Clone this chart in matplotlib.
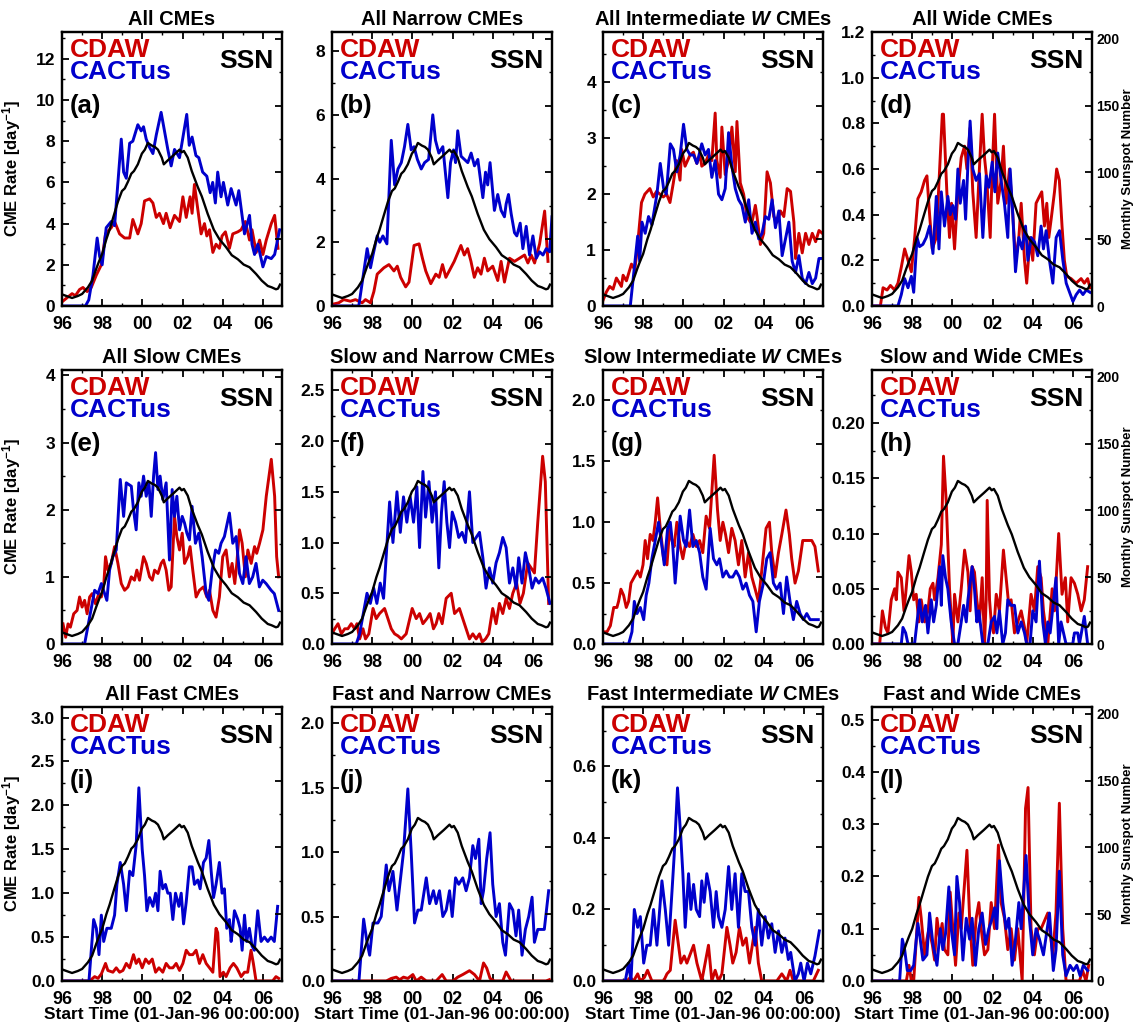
import matplotlib
matplotlib.use("Agg")
import matplotlib.pyplot as plt
import numpy as np

plt.rcParams["font.family"] = ["Liberation Sans", "DejaVu Sans"]
plt.rcParams["font.weight"] = "bold"
plt.rcParams["mathtext.fontset"] = "custom"
plt.rcParams["mathtext.rm"] = "Liberation Sans:bold"
plt.rcParams["mathtext.bf"] = "Liberation Sans:bold"
plt.rcParams["mathtext.it"] = "Liberation Sans:italic"
plt.rcParams["mathtext.default"] = "rm"

RED = "#cc0000"
BLUE = "#0000cc"

# (months since 01-Jan-1996, value)
SSN = [(0, 8.7), (2.6, 7.5), (6, 6), (9.5, 7.5), (12, 9), (15.5, 14), (18, 19), (20.5, 28),
       (22, 33), (24, 39), (26.5, 50), (28.4, 57), (31, 68), (33.4, 78), (35.8, 86),
       (37.5, 88), (39.4, 93), (41.4, 99), (43, 101), (45.3, 106), (47.7, 114), (49.5, 117),
       (51.3, 122), (53.7, 120), (55.5, 119), (57.3, 117), (59.6, 111), (60.8, 106),
       (63.2, 109), (66.8, 113), (70.2, 117), (71.5, 115), (72.8, 116), (75.1, 111),
       (77.5, 101), (81.1, 89), (83.5, 82), (87, 69), (90.7, 57), (94, 50), (98, 44),
       (101.4, 38), (105, 35), (108.5, 31), (112, 29), (115.9, 24), (119.3, 19),
       (122.9, 15), (125.2, 14), (127.8, 12.5), (129, 13), (130.2, 16)]

CDAW_A = [(0, 0.2), (3, 0.4), (6, 0.6), (8, 0.5), (10.5, 0.8), (12.5, 0.9), (15, 0.7), (17.5, 0.9),
          (20.5, 1.5), (23.5, 2.0), (26, 3.5), (29.4, 3.8), (31.4, 4.1), (34.4, 3.5), (37.4, 3.3),
          (40.4, 3.3), (42.3, 4.2), (45.3, 3.5), (47.3, 4.0), (49.3, 5.1), (52.3, 5.2), (54.3, 5.0),
          (56.3, 4.3), (58.2, 4.5), (60.6, 4.0), (62.2, 4.5), (64.6, 3.8), (67.2, 4.4), (70.2, 4.1),
          (72.2, 5.3), (74.2, 4.3), (76.5, 5.3), (77.7, 4.5), (79.1, 5.9), (81.1, 4.7), (83.1, 3.5),
          (85.1, 4.0), (86.5, 3.4), (88.1, 3.7), (90.1, 2.6), (92, 3.0), (94, 2.8), (95.6, 3.4),
          (97.6, 3.6), (100, 2.8), (102, 3.5), (105, 3.6), (107, 3.7), (109.5, 4.1), (112, 3.2),
          (113.5, 3.7), (116, 2.6), (118, 3.2), (120, 2.5), (122, 3.2), (125, 4.0), (127, 4.4),
          (129, 2.8)]
CACT_A = [(0, 0), (14, 0), (16, 0.3), (18.5, 1.5), (21, 3.3), (22.5, 2.4), (24, 2.0), (26.4, 3.8),
          (29.4, 4.1), (31.4, 3.9), (35.4, 8.1), (36.8, 6.5), (38.4, 6.2), (40.4, 7.9), (42.3, 8.0),
          (45.3, 8.8), (47.3, 8.5), (48.7, 8.7), (50.3, 8.1), (52.3, 7.7), (54.3, 7.4), (56.3, 8.3),
          (59.2, 9.4), (61.2, 8.5), (63.2, 7.6), (65.2, 6.8), (67.2, 7.6), (70.2, 7.2), (74.5, 9.3),
          (76, 7.8), (77.7, 8.2), (80, 7.3), (81.7, 7.2), (84, 6.5), (86.5, 6.3), (88.5, 5.5),
          (90, 6.0), (91.6, 5.0), (93, 6.5), (95, 5.3), (96.4, 6.0), (99, 4.9), (101, 5.7),
          (104, 4.9), (105.6, 5.6), (109, 3.5), (112, 4.4), (113.5, 3.0), (115, 2.5), (117, 3.0),
          (120, 1.9), (122, 2.4), (125, 2.3), (127, 2.5), (130, 3.7)]

CDAW_B = [(0, 0.05), (4, 0.1), (7, 0.2), (11, 0.15), (14, 0.2), (18, 0.1), (20, 0.2), (23, 0.1),
          (25, 0.45), (27, 1.0), (31, 1.2), (34, 1.3), (37, 1.1), (39, 1.25), (41, 0.9), (44, 0.6),
          (46, 0.75), (49, 1.9), (52, 1.95), (54, 1.5), (56, 1.1), (59, 0.7), (62, 1.0), (64, 0.9),
          (66, 1.3), (68, 0.9), (71, 1.2), (73, 1.4), (75, 1.65), (77, 1.9), (79, 1.6), (81, 1.8),
          (83, 1.4), (85, 0.9), (87, 1.2), (89, 1.0), (91, 1.5), (93, 1.1), (96, 1.25), (99, 0.8),
          (101, 1.4), (103, 0.75), (106, 1.5), (109, 1.4), (112, 1.5), (115, 1.6), (117, 1.35),
          (119, 1.6), (121, 1.35), (124, 1.95), (127, 2.98), (129, 1.4)]
CACT_B = [(0, 0), (16, 0), (21, 1.8), (23, 1.2), (24.5, 1.6), (27, 2.2), (28.5, 2.0), (30.4, 2.2),
          (32.8, 1.95), (35.4, 5.2), (37.4, 3.8), (39.4, 4.3), (41.4, 4.5), (43.3, 5.0), (45.3, 5.7),
          (47.3, 4.9), (49, 5.0), (51, 4.6), (53.3, 4.3), (55.3, 4.5), (57.7, 4.6), (60.2, 6.0),
          (61.8, 5.2), (63.8, 4.8), (66.2, 5.0), (69.2, 3.4), (70.8, 4.5), (72.6, 4.9), (73.8, 4.5),
          (75.1, 5.5), (77.1, 4.7), (79.1, 4.6), (81.1, 4.5), (83.1, 4.8), (85.1, 4.4), (87.1, 4.6),
          (90.1, 3.4), (91.7, 4.2), (93, 3.8), (94.4, 4.5), (97, 3.0), (99, 3.5), (101, 3.0),
          (103, 2.8), (104, 3.2), (105.4, 3.5), (107, 2.9), (109, 2.3), (110.4, 2.2), (112.4, 2.6),
          (114, 1.8), (116, 2.5), (118, 1.6), (120, 2.2), (122, 1.5), (124, 1.7), (126, 1.6),
          (128, 1.8), (130, 1.7), (131.4, 2.8)]

CDAW_C = [(0, 0.1), (2, 0.25), (4, 0.35), (6, 0.3), (8, 0.5), (11, 0.35), (12, 0.55), (14, 0.45),
          (17, 0.75), (19, 0.65), (20, 0.9), (21, 1.2), (23, 1.85), (25, 2.0), (28, 2.1), (30, 1.95),
          (32, 2.05), (34, 2.0), (36, 1.95), (38, 2.0), (40, 1.85), (42, 2.2), (44, 2.6), (46, 2.25),
          (47, 2.8), (49, 2.5), (52, 2.7), (54, 2.75), (56, 2.55), (58, 2.7), (59, 2.5), (61, 2.55),
          (63, 2.7), (65, 2.6), (67, 3.45), (68, 2.6), (70, 2.3), (71, 3.2), (73, 2.35), (75, 2.6),
          (77, 3.2), (79, 2.4), (80, 3.3), (82, 2.2), (84, 2.0), (86, 1.6), (88, 1.5), (89, 1.5),
          (91, 1.8), (92, 1.6), (94, 1.1), (96, 1.3), (98, 2.4), (100, 2.2), (102, 1.6), (104, 1.5),
          (106, 1.7), (108, 1.6), (110, 2.1), (112, 2.05), (114, 1.5), (115, 0.85), (117, 1.3),
          (119, 0.95), (121, 1.3), (123, 1.1), (125, 1.3), (127, 1.15), (129, 1.35), (131, 1.3)]
CACT_C = [(0, 0), (16.3, 0), (20.7, 1.25), (21.9, 0.8), (23.3, 1.5), (25.2, 1.3), (27.2, 1.6),
          (29.2, 1.45), (32.2, 2.0), (34.2, 2.55), (36.2, 2.1), (37.8, 2.0), (40.2, 2.9), (42.1, 2.8),
          (44.1, 2.4), (46.1, 2.7), (48.1, 3.25), (50.1, 2.8), (52.1, 2.7), (54.1, 2.7), (56.1, 2.55),
          (59, 2.9), (61, 2.7), (63, 2.8), (65, 2.3), (67, 2.6), (69, 2.0), (71, 1.9), (73, 2.1),
          (75, 3.1), (77, 2.5), (79, 2.1), (81, 1.9), (83, 1.8), (85, 1.5), (87, 1.9), (89, 1.3),
          (91, 1.5), (93, 1.2), (95, 1.3), (97, 1.6), (99, 1.55), (101, 1.9), (103, 1.4), (105, 1.7),
          (107, 0.9), (109, 1.2), (111, 1.5), (113, 0.8), (115, 0.6), (117, 0.9), (119, 0.5),
          (121, 0.4), (123, 0.6), (125, 0.4), (127, 0.5), (129, 0.85), (131, 0.85)]

CDAW_D = [(0, 0), (5, 0), (6.6, 0.08), (9, 0.07), (11, 0.09), (13.5, 0.07), (15.5, 0.1), (17.5, 0.17),
          (19.5, 0.25), (21.5, 0.2), (23.5, 0.15), (25.5, 0.3), (27.4, 0.47), (29.4, 0.5), (31.4, 0.55),
          (32.8, 0.57), (34.4, 0.4), (36, 0.25), (38.4, 0.3), (40.4, 0.6), (42, 0.84), (42.7, 0.84),
          (44.7, 0.5), (46.3, 0.3), (47.5, 0.45), (49.3, 0.25), (51.3, 0.5), (53.3, 0.65), (55.3, 0.7),
          (56.7, 0.6), (58.6, 0.78), (60.2, 0.5), (62.2, 0.3), (63.8, 0.55), (65.8, 0.84), (67.2, 0.65),
          (68.6, 0.55), (70.6, 0.3), (71.8, 0.6), (73.2, 0.84), (75.1, 0.45), (77.1, 0.55), (78.5, 0.7),
          (80.1, 0.45), (82.1, 0.6), (84.1, 0.4), (85.7, 0.2), (87.7, 0.3), (89.1, 0.45), (91.1, 0.2),
          (92.4, 0.1), (94.4, 0.3), (96, 0.2), (98, 0.45), (100, 0.48), (101.4, 0.5), (103, 0.35),
          (104.4, 0.45), (105.6, 0.3), (107, 0.38), (109, 0.5), (110.3, 0.6), (111.9, 0.55),
          (113.5, 0.35), (114.9, 0.2), (116.3, 0.13), (118.9, 0.12), (121.9, 0.1), (124.9, 0.12),
          (126.8, 0.1), (128.8, 0.12), (130.2, 0.08)]
CACT_D = [(0, 0), (15.5, 0), (17.5, 0.05), (19.5, 0.12), (21.5, 0.08), (23.5, 0.13), (24.9, 0.06),
          (26.9, 0.3), (28.4, 0.26), (30.4, 0.27), (32.4, 0.3), (34.4, 0.35), (36.4, 0.23), (38.4, 0.48),
          (40, 0.25), (41.4, 0.5), (43.3, 0.35), (45.3, 0.48), (46.7, 0.4), (48.3, 0.44), (49.9, 0.38),
          (51.3, 0.6), (52.7, 0.45), (54.7, 0.55), (55.9, 0.38), (57.3, 0.62), (58.6, 0.81), (60.2, 0.6),
          (62.2, 0.55), (64.2, 0.58), (66.2, 0.3), (68.2, 0.57), (69.8, 0.52), (71.8, 0.63), (73.4, 0.5),
          (75.1, 0.67), (77.1, 0.55), (79.1, 0.45), (81.1, 0.3), (82.5, 0.6), (84.1, 0.4), (85.7, 0.15),
          (87.7, 0.3), (89.7, 0.25), (91.7, 0.35), (93.1, 0.2), (95.1, 0.3), (97.1, 0.28), (99, 0.22),
          (101, 0.35), (102.4, 0.25), (104, 0.33), (106, 0.2), (108, 0.1), (110, 0.3), (112, 0.33),
          (114, 0.2), (116, 0.1), (118, 0.06), (120, 0.02), (122, 0.05), (124, 0.07), (126, 0.05),
          (128, 0.07), (130.2, 0.06)]

CDAW_E = [(0.6, 0.3), (2.2, 0.1), (3.6, 0.3), (5, 0.25), (7, 0.45), (9, 0.5), (10.5, 0.7), (12, 0.55),
          (13.5, 0.65), (15, 0.45), (16.5, 0.7), (18, 0.75), (20, 0.6), (22, 0.75), (23.5, 0.7),
          (25, 0.9), (26, 1.3), (27.4, 1.1), (29.4, 1.2), (31.4, 1.45), (33.4, 1.2), (35.4, 0.9),
          (37.4, 0.8), (39.4, 0.85), (41.4, 1.0), (43.3, 0.95), (44.7, 1.1), (46.3, 0.95), (48.7, 1.3),
          (50.3, 1.2), (52.3, 1.0), (53.9, 0.95), (55.3, 1.1), (57.3, 1.05), (59.2, 1.2), (60.6, 1.25),
          (62.2, 1.1), (63.8, 0.8), (65.2, 0.85), (67.2, 1.9), (68.6, 1.6), (70.2, 1.4), (71.8, 1.65),
          (73.2, 1.2), (75.1, 1.3), (76.5, 1.45), (78.1, 1.1), (80.1, 0.7), (82.1, 0.8), (84.5, 0.85),
          (86.5, 0.7), (88.1, 0.8), (90.1, 0.5), (92, 0.4), (94, 0.7), (96, 1.3), (98, 1.4), (100, 1.0),
          (101.6, 1.2), (103.2, 0.9), (104.4, 1.2), (106, 1.7), (107.6, 1.5), (109.5, 1.0), (111, 1.4),
          (113, 1.2), (115, 1.45), (116.3, 1.35), (118, 1.5), (120, 1.7), (122, 2.2), (125, 2.75),
          (127, 2.2), (128.2, 1.3), (129.4, 1.0)]
CACT_E = [(0, 0), (13.5, 0), (19.5, 0.8), (21.5, 0.75), (23.5, 0.9), (26.8, 0.65), (28.4, 1.1),
          (30.4, 1.3), (32.4, 1.4), (34.8, 2.45), (36.8, 1.9), (38.4, 2.4), (41.4, 2.35), (42.7, 2.0),
          (44.3, 1.7), (45.9, 2.4), (47.3, 2.2), (48.7, 2.5), (50.3, 2.2), (51.9, 2.4), (53.3, 1.9),
          (54.7, 2.5), (55.9, 2.85), (57.3, 2.3), (58.6, 2.5), (60.2, 2.15), (62.2, 2.4), (64.2, 1.25),
          (65.8, 2.3), (67.2, 1.9), (68.6, 2.2), (70.2, 1.7), (71.8, 1.9), (73.2, 1.8), (74.6, 1.65),
          (76.1, 1.55), (77.7, 2.05), (79.7, 1.5), (81.7, 1.65), (83.7, 1.3), (86.1, 0.75), (87.7, 0.65),
          (89.7, 1.1), (91.7, 1.4), (93.6, 1.35), (95, 1.5), (97, 1.6), (100, 1.95), (102, 1.5),
          (104, 1.6), (106, 1.05), (108, 0.9), (109.9, 1.3), (111.9, 0.9), (113.9, 1.0), (115.9, 1.2),
          (117.9, 0.85), (119.9, 0.95), (121.9, 0.9), (124.9, 0.8), (126.8, 0.75), (129.4, 0.5)]

CDAW_F = [(0, 0.1), (1.6, 0.15), (3.6, 0.2), (5.6, 0.1), (7.6, 0.15), (9.5, 0.15), (11.5, 0.2),
          (13.5, 0.15), (14.9, 0.2), (16.5, 0.05), (18.5, 0.15), (20, 0.05), (22, 0.1), (24.5, 0.35),
          (26.4, 0.25), (28.4, 0.3), (31.4, 0.35), (33.4, 0.25), (35.4, 0.15), (37.4, 0.1), (39.4, 0.08),
          (41.4, 0.05), (44.3, 0.1), (47.9, 0.35), (50.3, 0.25), (52.3, 0.3), (54.3, 0.2), (56.7, 0.25),
          (58.6, 0.3), (60.6, 0.15), (62.2, 0.2), (63.8, 0.3), (65.8, 0.2), (68.2, 0.45), (71.2, 0.5),
          (73.2, 0.3), (76.1, 0.35), (78.1, 0.25), (80.1, 0.15), (82.1, 0.05), (84.1, 0.1), (86.1, 0.05),
          (88.1, 0.1), (89.7, 0.02), (91.7, 0.05), (93.6, 0.1), (96, 0.35), (98, 0.2), (100, 0.4),
          (102, 0.3), (104, 0.45), (106, 0.35), (108, 0.5), (110.3, 0.6), (112.3, 0.4), (114.3, 0.5),
          (116.9, 0.8), (118.9, 0.75), (120.9, 0.7), (122.9, 1.2), (125.8, 1.85), (127.4, 1.6),
          (129.4, 0.4)]
CACT_F = [(0, 0), (14.5, 0), (16.5, 0.1), (20.9, 0.5), (22.9, 0.4), (24.9, 0.55), (26.8, 0.4),
          (28.8, 0.6), (30.8, 0.45), (34.4, 1.4), (36.4, 1.0), (38.8, 1.5), (40.8, 1.1), (42.7, 1.45),
          (44.7, 1.2), (46.7, 1.45), (48.7, 1.2), (50.7, 1.55), (52.3, 0.95), (54.3, 1.7), (55.9, 1.25),
          (57.9, 1.6), (59.8, 1.2), (61.8, 1.5), (63.8, 0.75), (65.4, 1.3), (67, 1.6), (68.6, 1.2),
          (70.2, 0.95), (71.8, 1.3), (73.8, 1.2), (75.7, 1.05), (77.7, 1.1), (79.7, 1.0), (82.1, 1.5),
          (84.1, 1.0), (86.1, 1.05), (88.1, 1.1), (90.1, 0.85), (92, 0.55), (94, 0.75), (96, 0.6),
          (98, 0.8), (100, 0.9), (102, 1.05), (104, 0.95), (106, 0.6), (108, 0.75), (110, 0.55),
          (111.5, 0.85), (113.5, 0.6), (115.5, 0.9), (117.5, 0.75), (119.5, 0.55), (121.5, 0.65),
          (123.5, 0.6), (125.8, 0.65), (127.8, 0.55), (130.2, 0.4)]

CDAW_G = [(0, 0.1), (2.4, 0.1), (4.4, 0.15), (6.4, 0.3), (8.3, 0.3), (9.3, 0.35), (10.7, 0.45),
          (12.3, 0.4), (13.9, 0.3), (15.3, 0.35), (16.7, 0.5), (18.7, 0.55), (20.7, 0.6), (22.3, 0.55),
          (23.9, 0.65), (25.2, 0.85), (26.6, 0.7), (28.2, 0.9), (29.8, 0.85), (31.2, 1.0), (32.6, 1.2),
          (34.2, 0.95), (36.2, 0.7), (38.2, 0.65), (39.8, 0.95), (41.2, 0.85), (42.5, 0.8), (44.1, 1.0),
          (46.1, 0.8), (47.7, 0.7), (49.7, 0.85), (51.7, 0.8), (53.7, 0.9), (55.7, 0.8), (57.7, 0.85),
          (59.6, 0.75), (61.6, 1.05), (63.6, 0.95), (66.4, 1.55), (68.4, 1.1), (70, 0.85), (71.6, 1.0),
          (73.2, 0.9), (75, 0.75), (76.9, 0.95), (78.9, 0.85), (80.9, 0.65), (82.9, 0.85), (84.9, 0.55),
          (86.9, 0.75), (88.9, 0.55), (90.9, 0.45), (92.8, 0.35), (94.8, 0.6), (97.4, 0.95), (99.4, 1.0),
          (100.8, 0.75), (102.8, 0.55), (104.8, 0.75), (106.8, 0.9), (109.3, 1.1), (111.3, 0.9),
          (112.7, 0.7), (114.7, 0.5), (116.7, 0.6), (119.3, 0.85), (121.7, 0.85), (124.7, 0.85),
          (126.6, 0.8), (128.6, 0.6)]
CACT_G = [(0, 0), (15.3, 0), (17.3, 0.1), (18.7, 0.35), (20.3, 0.25), (22.3, 0.3), (24.3, 0.2),
          (25.8, 0.4), (27.4, 0.5), (29.2, 0.7), (31.2, 0.85), (33.2, 1.0), (35.2, 0.8), (36.6, 0.65),
          (38.6, 0.95), (40.2, 1.0), (41.7, 0.8), (43.1, 0.5), (44.5, 0.75), (46.1, 1.05), (48.1, 0.85),
          (49.7, 0.8), (51.7, 1.1), (53.7, 0.8), (55.7, 0.85), (57.7, 0.75), (59.6, 0.55), (61.6, 0.45),
          (64, 0.95), (66, 0.7), (68, 0.65), (69.6, 0.7), (71.6, 0.55), (73.6, 0.6), (75.5, 0.55),
          (77.5, 0.55), (79.5, 0.6), (81.5, 0.55), (83.5, 0.45), (85.5, 0.5), (87.5, 0.4), (89.5, 0.35),
          (91.5, 0.1), (93.4, 0.35), (95.8, 0.5), (97.8, 0.7), (99.8, 0.75), (101.8, 0.5), (103.8, 0.45),
          (105.8, 0.5), (107.8, 0.25), (109.7, 0.55), (111.7, 0.35), (113.7, 0.2), (115.7, 0.35),
          (117.7, 0.25), (119.7, 0.2), (121.7, 0.25), (123.7, 0.2), (125.6, 0.2), (128.6, 0.2)]

CDAW_H = [(0, 0), (4.6, 0), (6.2, 0.03), (8, 0.015), (9.5, 0.01), (11.5, 0.04), (13.5, 0.05),
          (14.5, 0.04), (15.5, 0.065), (17.5, 0.06), (19.1, 0.03), (20.1, 0.045), (22.1, 0.08),
          (23.5, 0.065), (24.9, 0.04), (26.4, 0.045), (28, 0.02), (29.4, 0.04), (31.4, 0.02),
          (33.4, 0.03), (34.8, 0.05), (36.4, 0.055), (37.4, 0.04), (39.4, 0.06), (41.4, 0.09),
          (42.7, 0.17), (44.3, 0.13), (46.3, 0.05), (48.3, 0.0), (49.3, 0.045), (51.3, 0.02),
          (53.3, 0.05), (55.3, 0.085), (57.3, 0.065), (58.6, 0.03), (59.8, 0.07), (61.2, 0.065),
          (62.6, 0.04), (64.2, 0.02), (65.8, 0.06), (67.2, 0.0), (68.2, 0.04), (68.8, 0.13),
          (70.2, 0.04), (71.2, 0.02), (72.6, 0.01), (74.2, 0.045), (76.1, 0.03), (78.5, 0.085),
          (80.1, 0.06), (81.7, 0.035), (83.1, 0.04), (85.1, 0.01), (87.1, 0.02), (89.1, 0.03),
          (91.1, 0.015), (92.4, 0.0), (95, 0.045), (97, 0.03), (99, 0.07), (101, 0.06), (102.4, 0.03),
          (105, 0.0), (107.6, 0.05), (109, 0.03), (111.5, 0.1), (113.5, 0.045), (115.5, 0.06),
          (116.9, 0.02), (118.9, 0.06), (120.9, 0.055), (122.9, 0.045), (124.9, 0.03), (126.8, 0.04),
          (128.8, 0.07)]
CACT_H = [(0, 0), (17.5, 0), (18.5, 0.015), (20.1, 0.01), (21.5, 0.0), (25.4, 0.0), (28.4, 0.04),
          (30, 0.02), (32, 0.035), (33.4, 0.01), (35.4, 0.04), (36.8, 0.02), (38.4, 0.035), (40.4, 0.07),
          (41.4, 0.035), (42.3, 0.08), (43.9, 0.06), (45.3, 0.05), (47.3, 0.02), (49.3, 0.0),
          (51.3, 0.0), (53.3, 0.02), (54.7, 0.035), (56.3, 0.02), (57.3, 0.04), (59.8, 0.07),
          (61.2, 0.05), (62.6, 0.02), (63.8, 0.03), (66.2, 0.0), (69.2, 0.0), (71.2, 0.02),
          (73.2, 0.025), (74.6, 0.01), (76.1, 0.03), (78.1, 0.0), (79.7, 0.01), (81.1, 0.04),
          (83.1, 0.035), (85.1, 0.035), (87.1, 0.01), (89.1, 0.02), (91.1, 0.01), (92.4, 0.0),
          (94.4, 0.0), (96, 0.03), (98, 0.02), (100, 0.075), (102, 0.02), (103.6, 0.0), (105, 0.02),
          (106.4, 0.01), (109.9, 0.06), (111.5, 0.0), (112.9, 0.02), (115.9, 0.0), (119.9, 0.0),
          (120.9, 0.01), (122.9, 0.01), (123.9, 0.0), (126.8, 0.025), (128.8, 0.0)]

CDAW_I = [(0, 0), (16.5, 0.0), (19.5, 0.05), (21.5, 0.03), (23.5, 0.08), (26, 0.2), (27.4, 0.12),
          (30.4, 0.1), (32.4, 0.15), (34.4, 0.1), (36.4, 0.12), (38.4, 0.2), (40.4, 0.15), (42.7, 0.3),
          (44.3, 0.2), (45.9, 0.25), (47.9, 0.15), (49.9, 0.25), (51.9, 0.2), (53.9, 0.25), (55.9, 0.1),
          (57.9, 0.15), (60.2, 0.1), (62.2, 0.2), (64.2, 0.15), (66.2, 0.15), (68.2, 0.2), (70.2, 0.12),
          (72.2, 0.2), (74.2, 0.35), (76.1, 0.3), (78.1, 0.3), (80.1, 0.35), (82.1, 0.2), (84.1, 0.3),
          (86.1, 0.2), (88.1, 0.15), (90.1, 0.1), (92, 0.6), (93, 0.55), (94.4, 0.05), (96.4, 0.1),
          (98, 0.05), (100.4, 0.15), (102.4, 0.2), (104.4, 0.15), (107, 0.05), (109, 0.1), (110.9, 0.1),
          (112.9, 0.35), (114.3, 0.2), (115.9, 0.0), (125.8, 0.0), (127.8, 0.05), (129.4, 0.03)]
CACT_I = [(0, 0), (16.1, 0), (18.9, 0.7), (20.5, 0.6), (22.1, 0.3), (23.5, 0.75), (24.9, 0.45),
          (26.8, 0.6), (29.4, 0.6), (31.4, 0.75), (32.8, 1.1), (34.8, 1.35), (36.8, 1.1), (38.4, 0.8),
          (40.4, 1.25), (42.3, 1.2), (44.3, 1.55), (45.9, 2.2), (47.9, 1.5), (49.3, 1.2), (50.7, 0.8),
          (52.3, 0.95), (54.3, 0.85), (55.9, 1.0), (57.3, 0.8), (58.6, 1.25), (60.2, 1.05), (61.8, 1.1),
          (63.2, 1.0), (64.6, 1.0), (66.2, 0.7), (67.8, 1.0), (69.8, 0.85), (71.2, 1.0), (72.6, 0.65),
          (74.2, 0.9), (76.1, 1.3), (77.7, 1.3), (79.1, 1.1), (81.1, 1.15), (82.5, 1.05), (84.5, 1.35),
          (86.1, 1.4), (87.7, 1.6), (89.1, 1.25), (90.5, 0.95), (92, 1.1), (94, 1.35), (95.6, 1.0),
          (97, 1.05), (98.4, 0.6), (100, 0.7), (101, 0.45), (102, 0.6), (103, 0.8), (105, 0.7),
          (106.4, 0.6), (107.6, 0.35), (109, 0.75), (110.3, 0.45), (111.9, 0.6), (113.5, 0.4),
          (114.9, 0.35), (116.9, 0.8), (118.9, 0.45), (120.9, 0.5), (122.9, 0.45), (124.9, 0.5),
          (126.8, 0.45), (128.8, 0.85)]

CDAW_J = [(0, 0), (32.4, 0.0), (35.4, 0.02), (38.4, 0.03), (40.4, 0.01), (42.7, 0.03), (45.3, 0.02),
          (48.3, 0.05), (50.3, 0.0), (53.3, 0.03), (56.3, 0.0), (62.2, 0.0), (65.8, 0.05), (68.2, 0.0),
          (72.2, 0.0), (75.1, 0.03), (78.1, 0.05), (82.1, 0.08), (85.1, 0.05), (88.1, 0.0), (90.5, 0.14),
          (92.4, 0.1), (94.4, 0.02), (97, 0.0), (102, 0.0), (104, 0.07), (107, 0.0), (127.8, 0.0),
          (129.8, 0.01)]
CACT_J = [(0, 0), (16.1, 0), (18.9, 0.48), (20.9, 0.3), (22.5, 0.2), (24.5, 0.45), (27.4, 0.45),
          (29.4, 0.5), (32.4, 0.9), (34, 0.7), (36.4, 0.85), (38.8, 0.55), (41.4, 0.85), (42.7, 1.0),
          (45.3, 1.49), (47.3, 1.0), (49.3, 0.45), (51.3, 0.55), (53.3, 0.55), (56.3, 0.8), (58.3, 0.6),
          (60.6, 0.7), (62.2, 0.6), (64.2, 0.7), (66.2, 0.5), (68.2, 0.55), (70.2, 0.7), (71.8, 0.5),
          (73.8, 0.8), (75.7, 0.75), (78.1, 0.8), (80.1, 0.7), (82.1, 0.8), (84.1, 1.05), (85.7, 0.95),
          (87.7, 1.1), (89.1, 0.6), (90.5, 0.7), (92.4, 0.95), (94.4, 1.15), (96, 0.75), (98, 0.5),
          (100, 0.6), (102, 0.3), (103.6, 0.2), (106, 0.6), (108, 0.55), (109.9, 0.35), (111.5, 0.55),
          (113.5, 0.2), (115.5, 0.4), (117.5, 0.5), (119.5, 0.65), (120.9, 0.3), (122.9, 0.4),
          (124.9, 0.4), (126.8, 0.4), (129.4, 0.7)]

CDAW_K = [(0, 0), (14.3, 0.0), (16.3, 0.01), (18.3, 0.0), (20.7, 0.02), (22.3, 0.0), (24.7, 0.01),
          (26.6, 0.03), (29.2, 0.0), (36.2, 0.0), (38.2, 0.02), (40.2, 0.03), (43.1, 0.17), (45.1, 0.1),
          (46.5, 0.05), (48.5, 0.07), (50.1, 0.05), (52.5, 0.08), (54.1, 0.1), (56.1, 0.05), (59, 0.0),
          (63, 0.1), (65, 0.0), (67, 0.03), (69, 0.0), (71, 0.02), (74, 0.15), (75.9, 0.1), (77.5, 0.05),
          (79.5, 0.08), (81.5, 0.15), (83.5, 0.1), (85.5, 0.12), (87.5, 0.05), (90.9, 0.15), (92.8, 0.05),
          (94.8, 0.0), (103.8, 0.0), (106.8, 0.02), (109.7, 0.0), (111.7, 0.03), (113.7, 0.0),
          (125.6, 0.0), (128.6, 0.03)]
CACT_K = [(0, 0), (13.3, 0.0), (15.3, 0.05), (16.7, 0.0), (18.7, 0.2), (20.7, 0.15), (22.3, 0.18),
          (24.3, 0.05), (26.2, 0.1), (28.2, 0.1), (30.2, 0.2), (32.2, 0.1), (35.2, 0.28), (37.2, 0.2),
          (39.2, 0.1), (41.2, 0.25), (42.5, 0.35), (44.5, 0.54), (46.5, 0.4), (47.7, 0.3), (49.1, 0.15),
          (51.1, 0.3), (52.5, 0.2), (54.1, 0.27), (55.7, 0.2), (57.7, 0.18), (59, 0.28), (60.4, 0.22),
          (62, 0.3), (64, 0.25), (66, 0.15), (67.6, 0.25), (69, 0.18), (71, 0.15), (73, 0.2), (75, 0.32),
          (76.9, 0.2), (78.9, 0.3), (80.9, 0.15), (82.9, 0.3), (84.9, 0.25), (86.9, 0.25), (88.9, 0.15),
          (90.9, 0.1), (92.8, 0.2), (94.8, 0.1), (96.8, 0.18), (98.8, 0.12), (100.8, 0.16), (102.8, 0.08),
          (104.8, 0.14), (106.8, 0.08), (108.7, 0.12), (110.7, 0.06), (112.1, 0.08), (114.7, 0.0),
          (116.7, 0.02), (118.1, 0.05), (120.1, 0.0), (122.1, 0.05), (124.1, 0.02), (126.6, 0.07),
          (129.2, 0.14)]

CDAW_L = [(0, 0), (20.5, 0.0), (22.1, 0.03), (23.5, 0.0), (24.9, 0.0), (28, 0.16), (29.4, 0.12),
          (31.4, 0.05), (32.8, 0.08), (34, 0.1), (36, 0.07), (37.4, 0.04), (38.8, 0.12), (40.4, 0.08),
          (41.9, 0.11), (43.3, 0.06), (45.3, 0.05), (46.7, 0.17), (48.3, 0.1), (49.9, 0.03), (51.9, 0.13),
          (53.3, 0.1), (56.7, 0.25), (58.3, 0.12), (60.2, 0.03), (62.2, 0.12), (63.8, 0.15), (65.2, 0.1),
          (67.2, 0.05), (69.2, 0.06), (71.2, 0.15), (73.2, 0.1), (75.5, 0.26), (77.1, 0.15), (79.1, 0.12),
          (81.1, 0.06), (83.1, 0.1), (85.1, 0.04), (87.1, 0.1), (89.7, 0.0), (91.7, 0.33), (93.2, 0.37),
          (95, 0.1), (97, 0.05), (99, 0.1), (101, 0.1), (105, 0.13), (108, 0.05), (109.9, 0.13),
          (111.9, 0.34), (113.9, 0.1), (115.9, 0.0), (123.9, 0.0), (125.8, 0.02), (127.8, 0.0),
          (129.4, 0.03)]
CACT_L = [(0, 0), (16.5, 0.0), (18.1, 0.08), (19.5, 0.06), (21.1, 0.02), (23.1, 0.02), (24.9, 0.03),
          (27.4, 0.11), (28.8, 0.08), (30.4, 0.04), (32.8, 0.05), (34.4, 0.13), (36.4, 0.07), (38.8, 0.03),
          (40.8, 0.1), (42.3, 0.06), (43.9, 0.09), (45.9, 0.18), (47.3, 0.1), (49.3, 0.05), (50.7, 0.2),
          (52.3, 0.15), (54.3, 0.04), (56.3, 0.12), (58.3, 0.08), (59.8, 0.12), (61.8, 0.03), (63.8, 0.1),
          (65.8, 0.13), (67.8, 0.07), (69.8, 0.1), (71.8, 0.12), (73.2, 0.14), (74.6, 0.1), (76.1, 0.23),
          (78.1, 0.15), (80.1, 0.1), (81.7, 0.12), (83.7, 0.03), (85.7, 0.08), (87.7, 0.15), (89.1, 0.1),
          (92, 0.24), (94, 0.12), (96, 0.05), (98, 0.1), (100, 0.08), (102.4, 0.05), (106, 0.13),
          (108.3, 0.02), (109.9, 0.06), (111.9, 0.21), (113.9, 0.05), (115.9, 0.01), (118.3, 0.03),
          (120.3, 0.02), (122.3, 0.03), (124.3, 0.01), (126.2, 0.03), (128.8, 0.02)]

TITLES = ["All CMEs", "All Narrow CMEs", "All Intermediate $\\mathit{W}$ CMEs", "All Wide CMEs",
          "All Slow CMEs", "Slow and Narrow CMEs", "Slow Intermediate $\\mathit{W}$ CMEs", "Slow and Wide CMEs",
          "All Fast CMEs", "Fast and Narrow CMEs", "Fast Intermediate $\\mathit{W}$ CMEs", "Fast and Wide CMEs"]
TAGS = ["(a)", "(b)", "(c)", "(d)", "(e)", "(f)", "(g)", "(h)", "(i)", "(j)", "(k)", "(l)"]
CDAW = [CDAW_A, CDAW_B, CDAW_C, CDAW_D, CDAW_E, CDAW_F, CDAW_G, CDAW_H, CDAW_I, CDAW_J, CDAW_K, CDAW_L]
CACT = [CACT_A, CACT_B, CACT_C, CACT_D, CACT_E, CACT_F, CACT_G, CACT_H, CACT_I, CACT_J, CACT_K, CACT_L]
YMAX = [13.3, 8.6, 4.9, 1.2, 4.08, 2.7, 2.25, 0.248, 3.12, 2.125, 0.766, 0.524]
YSTEP = [2, 2, 1, 0.2, 1, 0.5, 0.5, 0.05, 0.5, 0.5, 0.2, 0.1]
YFMT = ["%d", "%d", "%d", "%.1f", "%d", "%.1f", "%.1f", "%.2f", "%.1f", "%.1f", "%.1f", "%.1f"]
XTICKS = [1996, 1998, 2000, 2002, 2004, 2006]
XLABELS = ["96", "98", "00", "02", "04", "06"]
SSN_TICKS = [0, 50, 100, 150, 200]


def series(pairs):
    arr = np.array(pairs, dtype=float)
    return 1996.0 + arr[:, 0] / 12.0, arr[:, 1]


W, H = 1134, 1025
COL_X = [62, 332, 603, 872]
ROW_TOP = [32, 370, 707]
PW, PH = 220, 274

fig = plt.figure(figsize=(W / 100, H / 100), dpi=100)
ssn_t, ssn_v = series(SSN)

for i in range(12):
    r, c = divmod(i, 4)
    ax = fig.add_axes([COL_X[c] / W, 1 - (ROW_TOP[r] + PH) / H, PW / W, PH / H])
    ax2 = ax.twinx()

    t, v = series(CDAW[i])
    ax.plot(t, v, color=RED, lw=2.1, zorder=3)
    t, v = series(CACT[i])
    ax.plot(t, v, color=BLUE, lw=2.1, zorder=4)
    ax2.plot(ssn_t, ssn_v, color="black", lw=1.7)

    ax.set_xlim(1996.0, 2006.95)
    ax.set_ylim(0, YMAX[i])
    ax2.set_ylim(0, 205)
    yt = np.arange(0, YMAX[i] + 1e-9, YSTEP[i])
    ax.set_yticks(yt)
    ax.set_yticklabels([YFMT[i] % y for y in yt])
    ax.set_xticks(XTICKS)
    ax.set_xticklabels(XLABELS)
    ax.set_xticks(np.arange(1996, 2007), minor=True)
    ax.set_yticks(np.arange(0, YMAX[i], YSTEP[i] / 2), minor=True)
    ax2.set_yticks(SSN_TICKS)
    ax2.set_yticks(np.arange(0, 205, 25), minor=True)

    ax.tick_params(axis="both", which="major", direction="in", length=5, width=1.3,
                   top=True, labelsize=12.5, pad=5)
    ax.tick_params(axis="x", which="major", pad=7, labelsize=13)
    ax.tick_params(axis="both", which="minor", direction="in", length=2.5, width=1.0, top=True)
    ax.tick_params(axis="y", which="both", right=False)
    ax2.tick_params(axis="y", which="major", direction="in", length=5, width=1.3, labelsize=10, pad=3)
    ax2.tick_params(axis="y", which="minor", direction="in", length=2.5, width=1.0)
    if c != 3:
        ax2.set_yticklabels([])
    else:
        ax2.set_ylabel("Monthly Sunspot Number", fontsize=9.5, fontweight="bold")
        ax2.yaxis.set_label_coords(1.135, 0.5)

    for a in (ax, ax2):
        for s in a.spines.values():
            s.set_linewidth(1.6)

    ax.set_title(TITLES[i], fontsize=14.5, fontweight="bold", pad=5)
    if c == 0:
        ax.set_ylabel("CME Rate [day$^{-1}$]", fontsize=12, fontweight="bold")
        ax.yaxis.set_label_coords(-0.177, 0.5)
    if r == 2:
        ax.set_xlabel("Start Time (01-Jan-96 00:00:00)", fontsize=12.5, fontweight="bold")
        ax.xaxis.set_label_coords(0.5, -0.095)

    ax.text(0.036, 0.91, "CDAW", color=RED, fontsize=19, fontweight="bold", transform=ax.transAxes,
            va="baseline", ha="left")
    ax.text(0.036, 0.83, "CACTus", color=BLUE, fontsize=19, fontweight="bold", transform=ax.transAxes,
            va="baseline", ha="left")
    ax.text(0.959, 0.868, "SSN", color="black", fontsize=19, fontweight="bold", transform=ax.transAxes,
            va="baseline", ha="right")
    ax.text(0.036, 0.73, TAGS[i], color="black", fontsize=18.5, fontweight="bold", transform=ax.transAxes,
            va="center", ha="left")

fig.savefig("out.png", dpi=100)
